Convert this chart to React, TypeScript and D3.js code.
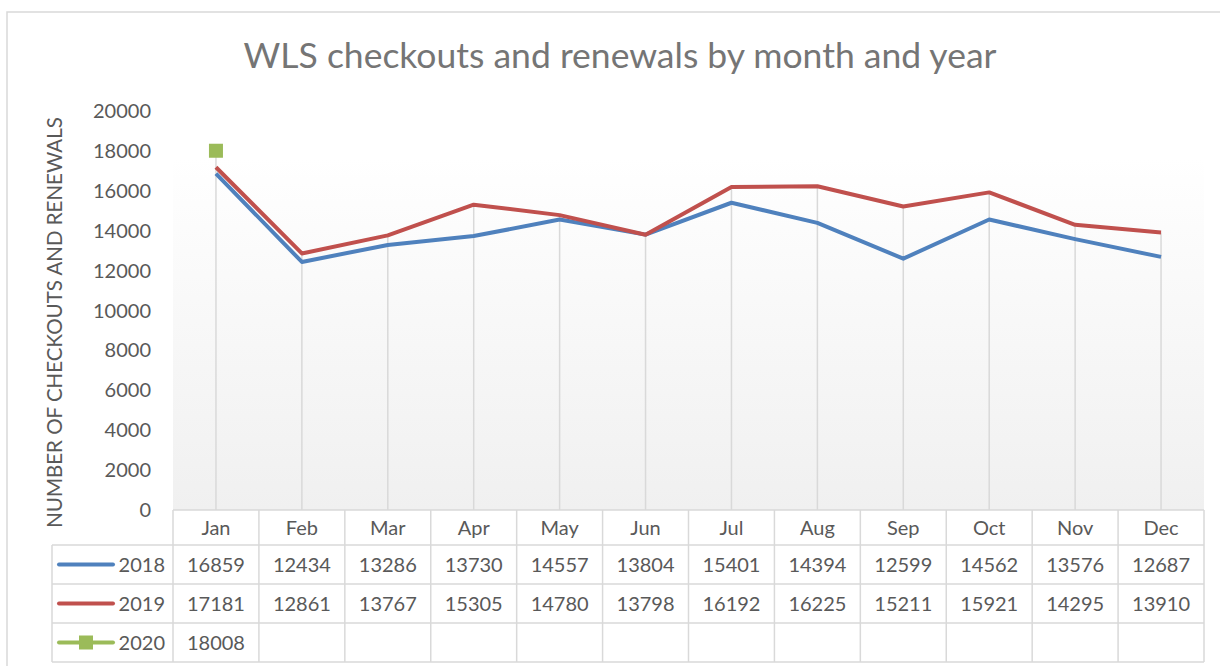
import React, { useEffect } from "react";
import * as d3 from "d3";

const months = ["Jan", "Feb", "Mar", "Apr", "May", "Jun", "Jul", "Aug", "Sep", "Oct", "Nov", "Dec"];
const values2018 = [16859, 12434, 13286, 13730, 14557, 13804, 15401, 14394, 12599, 14562, 13576, 12687];
const values2019 = [17181, 12861, 13767, 15305, 14780, 13798, 16192, 16225, 15211, 15921, 14295, 13910];
const values2020 = [18008];
const yTicks = [0, 2000, 4000, 6000, 8000, 10000, 12000, 14000, 16000, 18000, 20000];

const series = [
  { name: "2018", values: values2018, color: "#4f81bd", marker: false },
  { name: "2019", values: values2019, color: "#c0504d", marker: false },
  { name: "2020", values: values2020, color: "#9bbb59", marker: true },
];

const W = 1220,
  H = 666;
const plot = { left: 173, right: 1204, top: 111, bottom: 510, bgTop: 157 };
const rowH = 39;
const legendLeft = 52;
const textColor = "#595959";
const gridColor = "#d9d9d9";
const font = "Lato, 'Noto Sans', sans-serif";

const App: React.FC = () => {
  useEffect(() => {
    document.body.style.margin = "0";
  }, []);

  const x = d3.scaleBand<string>().domain(months).range([plot.left, plot.right]);
  const y = d3.scaleLinear().domain([0, 20000]).range([plot.bottom, plot.top]);
  const cx = (m: string) => x(m)! + x.bandwidth() / 2;

  const line = d3
    .line<number>()
    .x((_, i) => cx(months[i]))
    .y((d) => y(d));

  const headerTop = plot.bottom;
  const headerH = 35;
  const rowsTop = headerTop + headerH;
  const tableBottom = rowsTop + rowH * series.length;

  // drop lines run from the highest point of each month down to the axis
  const maxes = months.map((_, i) =>
    d3.max(series, (s) => (s.values[i] !== undefined ? s.values[i] : undefined))
  );

  return (
    <svg width={W} height={H} style={{ display: "block", fontFamily: font }}>
      <defs>
        <linearGradient id="bg" x1="0" y1="0" x2="0" y2="1">
          <stop offset="0" stopColor="#ffffff" />
          <stop offset="1" stopColor="#f0f0f0" />
        </linearGradient>
      </defs>
      <rect x={0} y={0} width={W} height={H} fill="#fff" />
      {/* chart frame */}
      <rect x={7} y={12} width={W + 20} height={H + 20} fill="none" stroke={gridColor} strokeWidth={1.5} />

      <text x={620} y={68} textAnchor="middle" fontSize={35.5} fill="#757575">
        WLS checkouts and renewals by month and year
      </text>

      {/* plot background */}
      <rect
        x={plot.left}
        y={plot.bgTop}
        width={plot.right - plot.left}
        height={plot.bottom - plot.bgTop}
        fill="url(#bg)"
      />

      {/* y axis */}
      {yTicks.map((t) => (
        <text key={t} x={151} y={y(t)} dy="0.35em" textAnchor="end" fontSize={20} fill={textColor}>
          {t}
        </text>
      ))}
      <text
        transform={`translate(62,${(plot.top + plot.bottom) / 2 + 12}) rotate(-90)`}
        textAnchor="middle"
        fontSize={20.5}
        fill={textColor}
      >
        NUMBER OF CHECKOUTS AND RENEWALS
      </text>

      {months.map((m, i) => (
        <line
          key={m}
          x1={cx(m)}
          x2={cx(m)}
          y1={y(maxes[i] as number)}
          y2={plot.bottom}
          stroke={gridColor}
          strokeWidth={1.5}
        />
      ))}

      {/* series */}
      {series.map((s) =>
        s.values.length > 1 ? (
          <path
            key={s.name}
            d={line(s.values)!}
            fill="none"
            stroke={s.color}
            strokeWidth={4}
            strokeLinejoin="round"
          />
        ) : null
      )}
      {series
        .filter((s) => s.marker)
        .map((s) =>
          s.values.map((v, i) => (
            <rect key={s.name + i} x={cx(months[i]) - 7} y={y(v) - 7} width={14} height={14} fill={s.color} />
          ))
        )}

      {/* data table */}
      <g stroke={gridColor} strokeWidth={1.5} fill="none">
        <line x1={plot.left} x2={plot.right} y1={headerTop} y2={headerTop} />
        <line x1={legendLeft} x2={plot.right} y1={rowsTop} y2={rowsTop} />
        {series.map((s, i) => (
          <line key={s.name} x1={legendLeft} x2={plot.right} y1={rowsTop + rowH * (i + 1)} y2={rowsTop + rowH * (i + 1)} />
        ))}
        <line x1={legendLeft} x2={legendLeft} y1={rowsTop} y2={tableBottom} />
        {months.map((m) => (
          <line key={m} x1={x(m)!} x2={x(m)!} y1={headerTop} y2={tableBottom} />
        ))}
        <line x1={plot.right} x2={plot.right} y1={headerTop} y2={tableBottom} />
      </g>
      {months.map((m) => (
        <text key={m} x={cx(m)} y={headerTop + headerH / 2} dy="0.35em" textAnchor="middle" fontSize={20} fill={textColor}>
          {m}
        </text>
      ))}
      {series.map((s, r) => {
        const cy = rowsTop + rowH * r + rowH / 2;
        return (
          <g key={s.name}>
            <line x1={59} x2={113} y1={cy} y2={cy} stroke={s.color} strokeWidth={4} strokeLinecap="round" />
            {s.marker && <rect x={79} y={cy - 7} width={14} height={14} fill={s.color} />}
            <text x={165} y={cy} dy="0.35em" textAnchor="end" fontSize={20} fill={textColor}>
              {s.name}
            </text>
            {s.values.map((v, i) => (
              <text key={i} x={cx(months[i])} y={cy} dy="0.35em" textAnchor="middle" fontSize={20} fill={textColor}>
                {v}
              </text>
            ))}
          </g>
        );
      })}
    </svg>
  );
};

export default App;
